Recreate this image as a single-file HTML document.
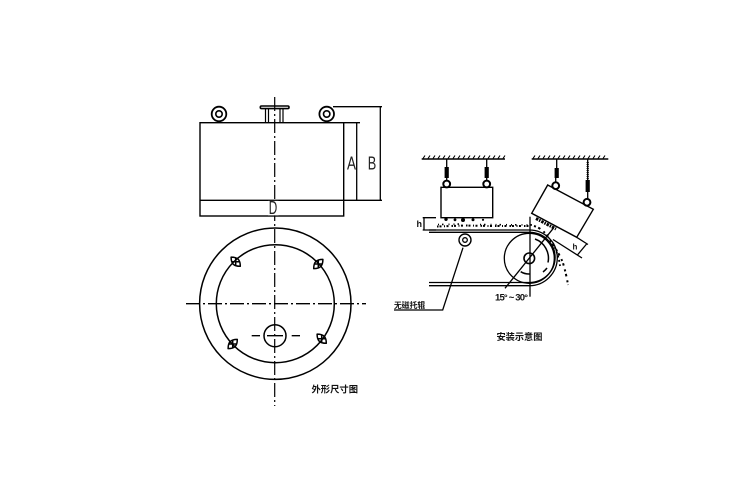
<!DOCTYPE html>
<html>
<head>
<meta charset="utf-8">
<style>
html,body{margin:0;padding:0;background:#fff}
svg{display:block}
.cn{font-family:"Liberation Sans","Noto Sans CJK SC",sans-serif;font-weight:700}
.s{font-family:"Liberation Sans",sans-serif}
</style>
</head>
<body>
<svg width="750" height="500" viewBox="0 0 750 500" xmlns="http://www.w3.org/2000/svg" fill="none" stroke="#000" stroke-width="1.300">
<!-- Side view -->
<rect x="200" y="122.700" width="143.700" height="93.300" stroke-width="1.400"/>
<path d="M200 200.300H382M343.700 122.700H360M333 106.700H382M356.700 122.700V200.300M380.300 106.700V200.300"/>
<path d="M265.500 109V122.700M283 109V122.700M268.500 109V122.700M280 109V122.700" stroke-width="1.200"/>
<rect x="260.300" y="106" width="28.700" height="2.600" rx="1.200" stroke-width="1.600"/>
<circle cx="219" cy="114" r="7.300" stroke-width="1.800"/><circle cx="219" cy="114" r="3.200" stroke-width="1.600"/>
<circle cx="326.700" cy="114" r="7.300" stroke-width="1.800"/><circle cx="326.700" cy="114" r="3.200" stroke-width="1.600"/>
<path d="M274.700 97V406" stroke-dasharray="14 3 2 3" stroke-width="1.200"/>
<text class="s" x="351.500" y="169.300" font-size="18" text-anchor="middle" fill="#222" stroke="none" textLength="9" lengthAdjust="spacingAndGlyphs">A</text>
<text class="s" x="372" y="169.300" font-size="18" text-anchor="middle" fill="#222" stroke="none" textLength="8.500" lengthAdjust="spacingAndGlyphs">B</text>
<rect x="268" y="200.900" width="10.500" height="14.400" fill="#fff" stroke="none"/>
<text class="s" x="273" y="214" font-size="18" text-anchor="middle" fill="#222" stroke="none" textLength="8.500" lengthAdjust="spacingAndGlyphs">D</text>
<!-- Plan view -->
<circle cx="275.300" cy="303.700" r="75.700" stroke-width="1.500"/>
<circle cx="275.300" cy="303.700" r="59" stroke-width="1.500"/>
<circle cx="275" cy="335.700" r="11" stroke-width="1.500"/>
<path d="M186 303.700H366" stroke-dasharray="14 3 2 3" stroke-width="1.300"/>
<path d="M251.700 335.700H260M267 335.700H283M291.700 335.700H300"/>
<g stroke-width="1.500" stroke-linejoin="round">
<path transform="translate(235.700 261.700) rotate(45)" d="M-6.500 0Q-3-3.500 0-3.500Q3-3.500 6.500 0Q3 3.500 0 3.500Q-3 3.500-6.500 0ZM-2.500-2.500L2.500 2.500M-2.500 2.500L2.500-2.500"/>
<path transform="translate(318.300 264) rotate(-45)" d="M-6.500 0Q-3-3.500 0-3.500Q3-3.500 6.500 0Q3 3.500 0 3.500Q-3 3.500-6.500 0ZM-2.500-2.500L2.500 2.500M-2.500 2.500L2.500-2.500"/>
<path transform="translate(232.700 344) rotate(-45)" d="M-6.500 0Q-3-3.500 0-3.500Q3-3.500 6.500 0Q3 3.500 0 3.500Q-3 3.500-6.500 0ZM-2.500-2.500L2.500 2.500M-2.500 2.500L2.500-2.500"/>
<path transform="translate(321.700 338.700) rotate(45)" d="M-6.500 0Q-3-3.500 0-3.500Q3-3.500 6.500 0Q3 3.500 0 3.500Q-3 3.500-6.500 0ZM-2.500-2.500L2.500 2.500M-2.500 2.500L2.500-2.500"/>
</g>
<text class="cn" x="311.500" y="392.500" font-size="9.300" fill="#111" stroke="none">外形尺寸图</text>
<!-- Ceilings -->
<path d="M421.700 159H505M531.700 159H608.300" stroke-width="1.400"/>
<path d="M423 158.500l2 -3M428 158.500l2 -3M433 158.500l2 -3M438 158.500l2 -3M443 158.500l2 -3M448 158.500l2 -3M453 158.500l2 -3M458 158.500l2 -3M463 158.500l2 -3M468 158.500l2 -3M473 158.500l2 -3M478 158.500l2 -3M483 158.500l2 -3M488 158.500l2 -3M493 158.500l2 -3M498 158.500l2 -3M503 158.500l2 -3M533 158.500l2 -3M538 158.500l2 -3M543 158.500l2 -3M548 158.500l2 -3M553 158.500l2 -3M558 158.500l2 -3M563 158.500l2 -3M568 158.500l2 -3M573 158.500l2 -3M578 158.500l2 -3M583 158.500l2 -3M588 158.500l2 -3M593 158.500l2 -3M598 158.500l2 -3M603 158.500l2 -3" stroke-width="1.100"/>
<!-- Left magnet -->
<path d="M446.700 159V168M486.700 159V168M446.700 178V181M486.700 178V181"/>
<path d="M446.700 167V178M486.700 167V178" stroke-width="4.200"/>
<circle cx="446.700" cy="184" r="3.400" stroke-width="2"/><circle cx="486.700" cy="184" r="3.400" stroke-width="2"/>
<rect x="441" y="187.300" width="51.700" height="30.400" stroke-width="1.400"/>
<g fill="#000" stroke="none">
<circle cx="446" cy="219.300" r="1.700"/><circle cx="455" cy="219.800" r="1.400"/><circle cx="463" cy="220" r="2"/><circle cx="473" cy="219.800" r="1.500"/><circle cx="483" cy="219.800" r="1.100"/>
</g>
<!-- h dimension -->
<path d="M422.700 217.700H436M422.700 230H436M424 218V230"/>
<text class="cn" x="419.300" y="227" font-size="9" text-anchor="middle" fill="#111" stroke="none">h</text>
<!-- Material -->
<path d="M437 226.500 L465 225.500 L490 226 L530 226" stroke-dasharray="1.500 1 2 2.500 1 1.500 2 3" stroke-width="2"/>
<path d="M438 224.500 L463 224 M480 224.500 L535 225" stroke-dasharray="1 3 1.500 5 1 4" stroke-width="1.600"/>
<path d="M534 226 C541 228 546 233 550 240 C554 246 560 255 563 263 C565 270 567 278 568 285" stroke-dasharray="2 2.500 2.500 4" stroke-width="2"/>
<path d="M553 243 C556 250 559 257 560 266" stroke-dasharray="2 2.500" stroke-width="1.800"/>
<path d="M536 218.500 L556 229" stroke-dasharray="2.500 1 1.500 1" stroke-width="3"/>
<!-- Belt and pulley -->
<path d="M429 230H529.300A28 27.800 0 0 1 557.300 257.800A28 27.900 0 0 1 529.300 285.700H429" stroke-width="1.300"/>
<path d="M429 232.300H529.300A25.800 25 0 0 1 555.100 257.500A26 25 0 0 1 529.300 282.500H429" stroke-width="1.300"/>
<circle cx="529.300" cy="258.300" r="25" stroke-width="1.300"/>
<circle cx="529.300" cy="258.300" r="5.300" stroke-width="1.600" fill="#fff"/>
<path d="M530 216.700V296.700" stroke-width="1.300"/>
<path d="M505 288.300L553.300 228.300" stroke-width="1.300"/>
<path d="M535 239A20.500 20.500 0 0 1 548 262.500M547 268A21 21 0 0 1 543 272" stroke-width="1.500"/>
<path d="M520.700 271.700A16 16 0 0 0 530 274" stroke-width="1.500"/>
<!-- Roller and leader -->
<circle cx="465" cy="240" r="6" stroke-width="1.400"/><circle cx="465" cy="240" r="2.300" stroke-width="1.300"/>
<path d="M463 247.700L442.700 310H394" stroke-width="1.300"/>
<text class="cn" x="394" y="308" font-size="7.800" fill="#111" stroke="none">无磁托辊</text>
<!-- Tilted magnet -->
<path d="M556.700 159V168M587.700 159V180M555.700 178V182M587.700 192V199"/>
<path d="M556.700 168V178" stroke-width="4.200"/>
<path d="M587.700 180V192" stroke-width="4.200"/>
<path d="M587.700 162V180" stroke-width="2.200" stroke-dasharray="1 1"/>
<circle cx="555.700" cy="185.700" r="3.400" stroke-width="2"/><circle cx="587" cy="202.300" r="3.400" stroke-width="2"/>
<path d="M547.700 185L593.300 209.300L576.700 237.300L531.700 213.300Z" stroke-width="1.400"/>
<path d="M553 239.500L582 258M576.700 237.300L588 244.500M587 243.500L577 255.500" stroke-width="1.300"/>
<text class="cn" x="575" y="249.500" font-size="8" text-anchor="middle" fill="#111" stroke="none">h</text>
<text class="s" x="495" y="300.500" font-size="9.500" font-weight="700" fill="#111" stroke="none" textLength="33">15° ~ 30°</text>
<text class="cn" x="496.500" y="340" font-size="9.200" fill="#111" stroke="none">安装示意图</text>
</svg>
</body>
</html>
